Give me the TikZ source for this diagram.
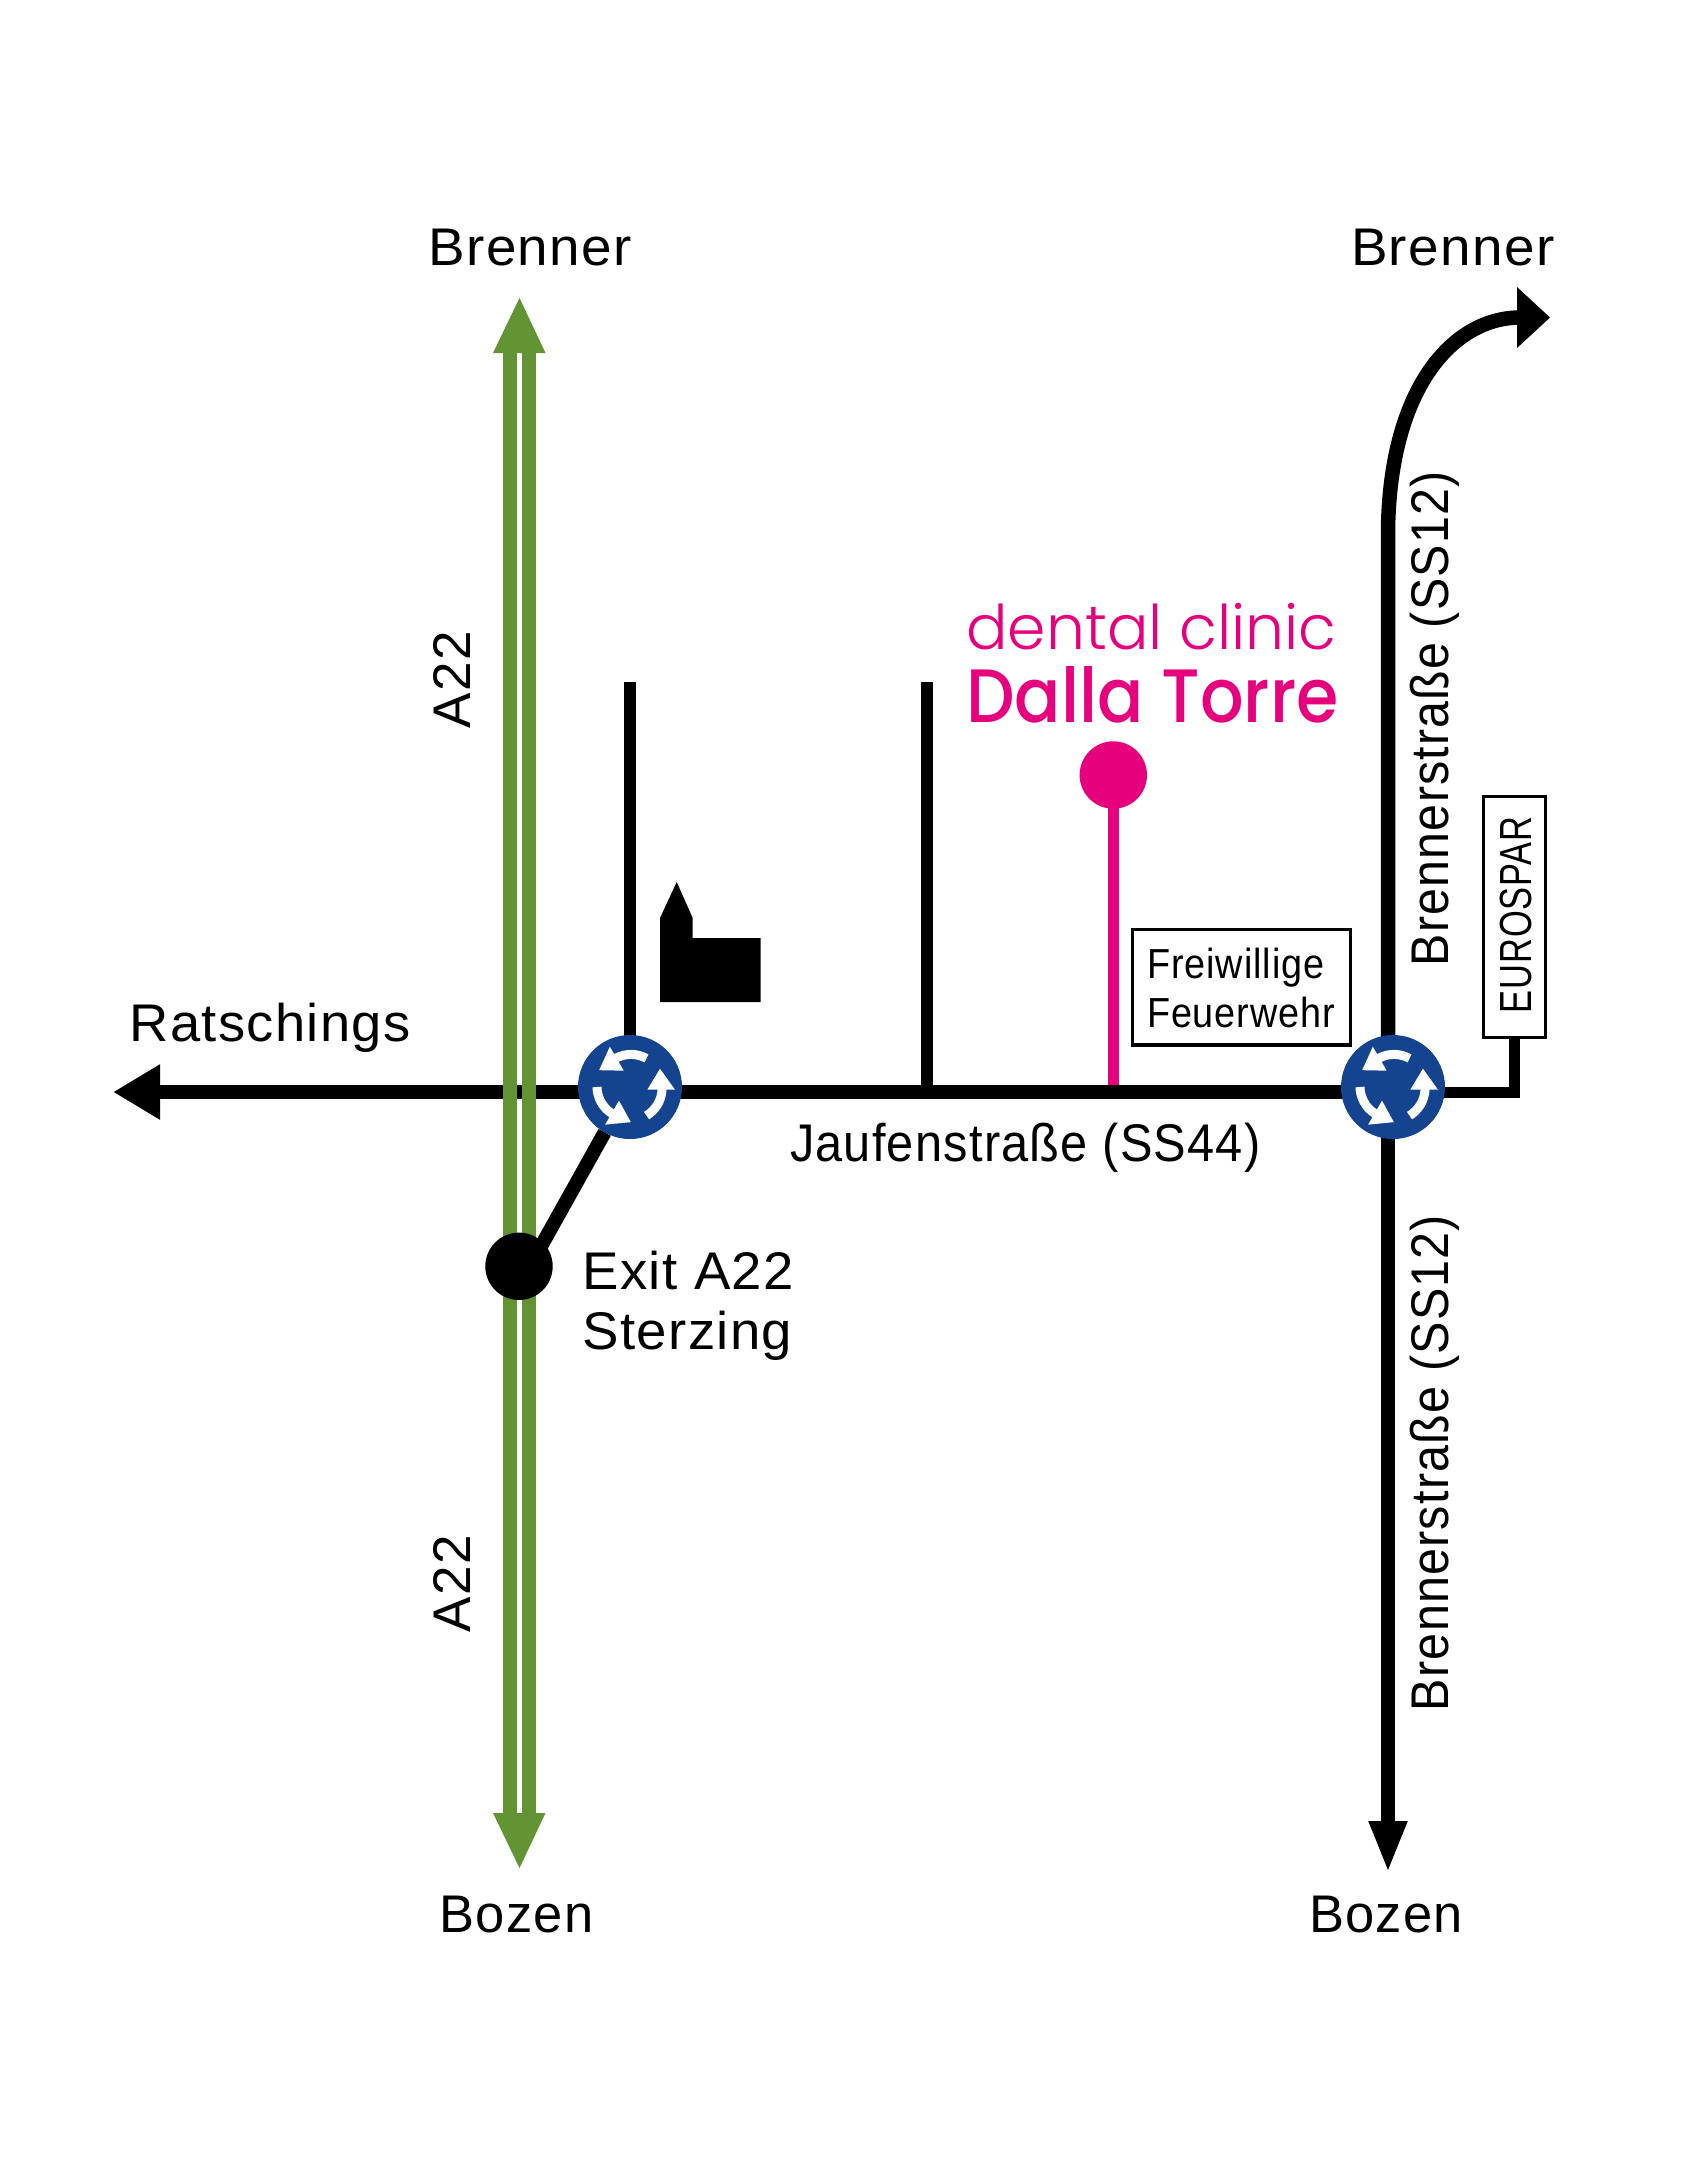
\documentclass[tikz,border=0pt]{standalone}
\usepackage{fontspec}
\usepackage{graphicx}
\setmainfont{Liberation Sans}[LetterSpace=2.5]
\newfontfamily\lightf{Poppins Light}
\newfontfamily\boldf{Poppins Medium}
\usetikzlibrary{arrows.meta}
\definecolor{rblue}{HTML}{144490}
\definecolor{agreen}{HTML}{639434}
\definecolor{cpink}{HTML}{E6007E}
\tikzset{
  lab/.style={anchor=base west,inner sep=0pt,outer sep=0pt,font=\fontsize{26.5}{30}\selectfont},
  rlab/.style={lab,rotate=90},
  small/.style={anchor=base west,inner sep=0pt,outer sep=0pt,font=\fontsize{21}{24}\selectfont},
  road/.style={line width=7.25pt,black},
  minor/.style={line width=5.75pt,black},
  shaft/.style={line width=7pt,agreen},
  signbox/.style={draw=black,line width=1.75pt,rectangle,inner sep=0pt,outer sep=0pt,fill=white},
  rbt/.style={circle,fill=rblue,inner sep=0pt,outer sep=0pt,minimum size=52pt},
  dot/.style={circle,inner sep=0pt,outer sep=0pt,minimum size=33.7pt},
  swirl/.pic={
    \fill[white] (30,-18.3) -- (17.3,2.7) -- (45,2.7) -- cycle;
    \draw[white,line width=4.5pt] (32,1) -- (32,2.7) .. controls (31.5,14) and (25,23.5) .. (16.5,28.6);
  }
}
\begin{document}
\begin{tikzpicture}[x=0.5pt,y=-0.5pt]
\useasboundingbox (0,0) rectangle (1698,2160);
% named points
\coordinate (wtip) at (113,1092);
\coordinate (s1top) at (630,682);
\coordinate (s1bot) at (630,1092);
\coordinate (s2top) at (927,682);
\coordinate (s2bot) at (927,1092);
\coordinate (ntip) at (1550,317.5);
\coordinate (scurve) at (1388,530);
\coordinate (rmid) at (1388,1092);
\coordinate (stip) at (1388,1873);
\coordinate (exj) at (530,1266);
\coordinate (gn1) at (510.3,340);
\coordinate (gs1) at (510.3,1825);
\coordinate (gn2) at (529,340);
\coordinate (gs2) at (529,1825);
\coordinate (pinkbot) at (1113.3,1092);
% clinic
\node[dot,fill=cpink] (clinic) at (1113.3,775) {};
\draw[cpink,line width=5.65pt] (clinic.center) -- (pinkbot);
% roads
\draw[road,-{Triangle[length=23.5pt,width=26pt,sep=0pt]}] (rmid) -- (wtip);
\draw[minor] (s1top) -- (s1bot);
\draw[minor] (s2top) -- (s2bot);
\draw[road] (rmid) -- (scurve) .. controls (1390,385) and (1455,317.5) .. (1520,317.5);
\fill (1517,287) -- (ntip) -- (1517,348) -- cycle;
\draw[road,-{Triangle[length=26pt,width=17.5pt,sep=0pt]}] (rmid) -- (stip);
% green motorway
\draw[shaft] (gn1) -- (gs1);
\draw[shaft] (gn2) -- (gs2);
\fill[agreen] (519.5,298) -- (545.5,353) -- (493,353) -- cycle;
\fill[agreen] (519.5,1868) -- (545.5,1813) -- (493,1813) -- cycle;
% church
\fill (660,1002) -- (660,918) -- (676.7,882) -- (692.7,918) -- (692.7,938) -- (760.7,938) -- (760.7,1002) -- cycle;
% signs
\node[signbox,minimum width=109pt,minimum height=57.6pt] (ffw) at (1241.6,987.3) {};
\node[signbox,minimum width=31pt,minimum height=120.3pt] (spar) at (1514.4,917) {};
\draw[line width=5.5pt,line join=miter] (rmid) -| (spar.south);
% roundabouts and exit
\node[rbt] (rb1) at (630,1087) {};
\node[rbt] (rb2) at (1393,1087) {};
\node[dot,fill=black] (exit) at (519,1266.3) {};
\draw[line width=7pt] (exj) -- (rb1);
\foreach \c in {rb1,rb2}{
  \pic[shift={(\c)}] {swirl};
  \pic[shift={(\c)},rotate=120] {swirl};
  \pic[shift={(\c)},rotate=240] {swirl};
}
% labels
\node[lab] (t1) at (428.5,265) {\scalebox{1.035}[1]{Brenner}};
\node[lab] (t2) at (1351,265) {\scalebox{1.035}[1]{Brenner}};
\node[lab] (t3) at (129.5,1041.5) {\scalebox{1.025}[1]{Ratschings}};
\node[rlab] (t4) at (470,728) {A22};
\node[rlab] (t5) at (470,1632) {A22};
\node[lab] (t6) at (439.6,1932) {\scalebox{0.99}[1]{Bozen}};
\node[lab] (t7) at (1309,1932) {\scalebox{0.99}[1]{Bozen}};
\node[lab] (t8) at (582.5,1289) {\scalebox{1.03}[1]{Exit A22}};
\node[lab] (t9) at (582.5,1349.5) {\scalebox{1.03}[1]{Sterzing}};
\node[lab] (t10) at (790,1161) {\scalebox{0.92}[1]{Jaufenstraße (SS44)}};
\node[rlab] (t11) at (1448,966) {\scalebox{0.912}[1]{Brennerstraße (SS12)}};
\node[rlab] (t12) at (1448,1711) {\scalebox{0.915}[1]{Brennerstraße (SS12)}};
\node[small,rotate=90,font=\fontsize{22.5}{24}\selectfont] (t13) at (1531,1013) {\scalebox{0.765}[1]{EUROSPAR}};
\node[small] (t14) at (1147,978) {\scalebox{0.9}[1]{Freiwillige}};
\node[small] (t15) at (1147,1027) {\scalebox{0.9}[1]{Feuerwehr}};
\node[anchor=base west,inner sep=0pt,text=cpink] (t16) at (966,649) {\resizebox{185pt}{!}{\lightf dental clinic}};
\node[anchor=base west,inner sep=0pt,text=cpink] (t17) at (966,722) {\resizebox{186pt}{28pt}{\boldf Dalla Torre}};
\end{tikzpicture}
\end{document}
